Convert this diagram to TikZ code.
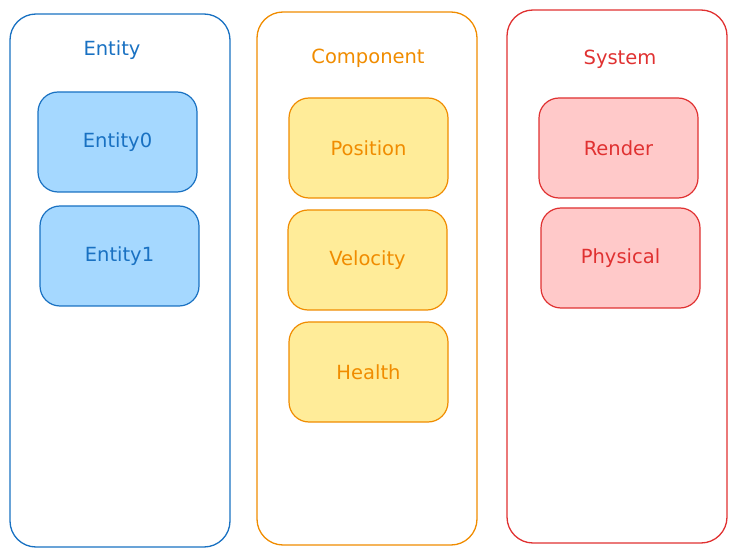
\documentclass[tikz,border=0pt]{standalone}
\usepackage{fontspec}
\setmainfont{DejaVu Sans}
\usepackage{xcolor}
\usepackage{tikz}
\usetikzlibrary{shapes, arrows.meta, positioning}

\definecolor{entline}{HTML}{1971C2}
\definecolor{entfill}{HTML}{A5D8FF}
\definecolor{comline}{HTML}{F08C00}
\definecolor{comfill}{HTML}{FFEC99}
\definecolor{sysline}{HTML}{E03131}
\definecolor{sysfill}{HTML}{FFC9C9}

\tikzset{
  group/.style={draw=#1, line width=1.3pt, rounded corners=26pt,
    minimum width=220pt, minimum height=533pt, inner sep=0pt},
  item/.style={draw=#1line, fill=#1fill, text=#1line, line width=1.2pt,
    rounded corners=20pt, minimum width=159pt, minimum height=100pt},
  title/.style={text=#1}
}

\begin{document}
\begin{tikzpicture}[x=1pt, y=-1pt, node distance=112pt,
    every node/.append style={font=\fontsize{19.5}{23}\selectfont}]
				\useasboundingbox (0,0) rectangle (737,556);

				% groups
				\node[group=entline] (ent) at (120,280.5) {};
				\node[group=comline] (com) at (367,278.5) {};
				\node[group=sysline] (sys) at (617,276.5) {};

				\node[title=entline] (entT) at (112,50) {Entity};
				\node[title=comline] (comT) at (368,58) {Component};
				\node[title=sysline] (sysT) at (620,59) {System};

				% entities
				\node[item=ent] (e0) at (117.5,142) {Entity0};
				\node[item=ent, below of=e0, node distance=114pt, xshift=2pt] (e1) {Entity1};

				% components
				\node[item=com] (pos) at (368.5,148) {Position};
				\node[item=com, below of=pos, xshift=-1pt] (vel) {Velocity};
				\node[item=com, below of=vel, xshift=1pt] (hea) {Health};

				% systems
				\node[item=sys] (ren) at (618.5,148) {Render};
				\node[item=sys, below of=ren, node distance=110pt, xshift=2pt] (phy) {Physical};
			\end{tikzpicture}
\end{document}
